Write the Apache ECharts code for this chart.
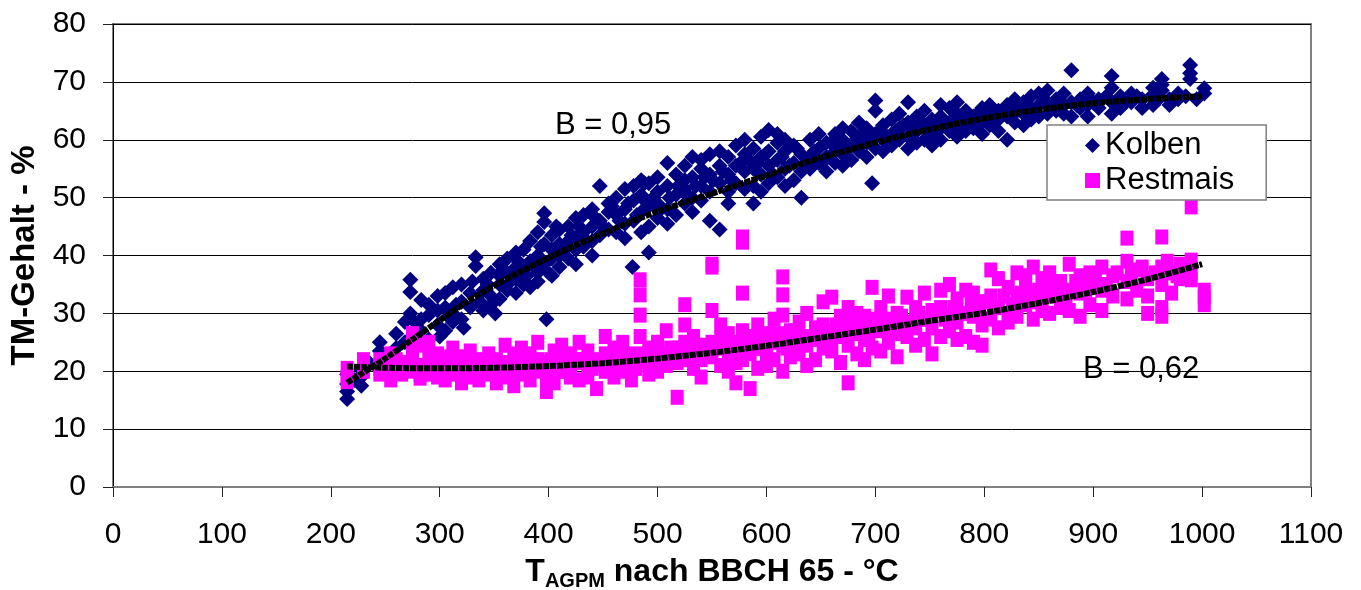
<!DOCTYPE html>
<html>
<head>
<meta charset="utf-8">
<script src="https://cdn.jsdelivr.net/npm/echarts@6/dist/echarts.min.js"></script>
<style>
  html, body { margin: 0; padding: 0; background: #fff; }
  #chart { width: 1361px; height: 590px; }
</style>
</head>
<body>
<div id="chart"></div>
<script>
// Kolben (navy diamonds) - [T_AGPM, TM-Gehalt]
const kolben = [
  [215,15.2],[215,16.5],[215,17.8],[215,19.5],[222,18.5],[228,17.5],[228,20.2],[228,19],[235,21.5],
  [245,25],[245,23.5],[245,21],[252,22.5],[252,20],[260,24],[260,26.5],[268,25],[268,28.5],
  [273,35.8],[273,33.7],[273,30],[277,28.5],[277,26],[283,32.3],[283,29],[283,27],
  [290,29.7],[290,31.5],[290,25.5],[298,28],[298,33],[298,30.5],[305,31],[305,27],[305,33.5],
  [312,30],[312,34.5],[312,28.5],[320,32],[320,29],[320,35],[328,33.5],[328,31],[333,39.7],[333,38.2],
  [340,34],[340,30.5],[340,36],[347,33],[347,37],[347,31.5],[355,35],[355,38.5],[355,32.5],[355,36.5],
  [362,37],[362,34],[362,39.5],[370,36],[370,38],[370,33.5],[370,40.5],[377,41],[377,37.5],[377,35],
  [383,39],[383,42.5],[383,34.5],[398,29],[390,44],[390,40],[390,37],[390,35.5],
  [396,47.3],[396,45.8],[396,42],[396,38.5],[403,41],[403,43.5],[403,36.5],[403,39.5],
  [410,44.5],[410,40],[410,42],[410,38],[418,45],[418,42.5],[418,39.5],[425,46.5],[425,43],[425,41],[425,38.5],
  [432,44],[432,47],[432,41.5],[440,48],[440,45],[440,42.5],[440,40],[447,52],[447,46],[447,43.5],
  [455,49],[455,44.5],[455,47.5],[462,50],[462,47],[462,44],[470,51.5],[470,48],[470,45.5],[470,43],
  [478,49.5],[478,52],[478,46],[477,38],[485,53],[485,50.5],[485,47.5],[485,44],[488,52.5],
  [492,52.5],[492,48.5],[492,45],[492,40.5],[500,51],[500,49],[500,46.5],[500,53.5],
  [509,56],[509,52],[509,48],[509,45.5],[517,54],[517,50.5],[517,47],[525,55.5],[525,51.5],[525,49],[525,53],
  [532,57],[532,53.5],[532,50],[532,47.5],[540,55],[540,52],[540,49.5],[540,56.5],
  [548,54],[548,51],[548,57.5],[548,46],[557,55.5],[557,52.5],[557,44.5],[557,58],
  [565,57],[565,54],[565,51],[565,49],[572,59],[572,55.5],[572,52.5],[580,57.5],[580,54.5],[580,51.5],[580,60],
  [588,58.5],[588,55],[588,52],[588,49],[595,60.5],[595,57],[595,54],[595,51],
  [602,61.7],[602,58],[602,55.5],[602,52.5],[610,59.5],[610,56.5],[610,53.5],[610,61],
  [617,58],[617,55],[617,52],[617,60],[625,59],[625,56],[625,53],[632,57.5],[632,54.5],[632,50],
  [640,60],[640,57],[640,55],[648,58.5],[648,56],[648,61],[655,59.5],[655,57],[655,54.5],
  [663,61],[663,58],[663,56],[670,60],[670,57.5],[670,55.5],[670,62],[678,61.5],[678,59],[678,56.5],
  [685,60.5],[685,58],[685,63],[692,62],[692,59.5],[692,57],[700,66.8],[700,65],[700,61],[700,58.5],[697,52.5],
  [707,60],[707,62.5],[707,58],[715,63.5],[715,61],[715,59],[722,62],[722,60],[722,64.5],
  [730,66.5],[730,63],[730,60.5],[730,58.5],[738,61.5],[738,59.5],[738,64],[745,62.5],[745,60],[745,65],
  [752,63.5],[752,61],[752,59],[760,64],[760,62],[760,60],[760,66],[768,63],[768,61.5],[768,65.5],
  [775,64.5],[775,62.5],[775,60.5],[775,66.5],[783,63.5],[783,61.5],[783,65],[790,64],[790,62],[821,60],
  [798,65.5],[798,63],[798,61],[805,64.5],[805,62.5],[805,66],[813,65],[813,63.5],[813,61.5],
  [821,66],[821,64],[828,65.5],[828,63],[828,67],[836,66.5],[836,64.5],[836,62.5],
  [843,67.5],[843,65],[843,63.5],[850,68],[850,66],[850,64],[858,66.5],[858,64.5],[858,68.5],
  [866,67],[866,65],[873,66],[873,64.5],[873,68],[880,72],[880,66.5],[880,64],[888,67],[888,65.5],
  [895,68],[895,66],[895,64],[905,67],[905,65.5],[917,71],[917,69],[917,66.5],[917,64.5],
  [925,67.5],[925,65.5],[935,66.5],[935,68],[945,67],[945,65.5],[955,67.8],[955,66],[955,69],
  [963,70.5],[963,69.5],[963,68.5],[970,67],[970,66],[978,68],[978,67],
  [989,72.9],[989,71.5],[989,70.5],[1002,68.9],[1002,68],
  [300,26],[308,29.5],[315,31.5],[322,27.5],[330,35.5],[337,32],[344,35],[351,30],[358,37.5],[365,35.5],
  [372,39],[380,36.5],[387,38],[393,41.5],[400,37],[407,45],[414,41],[421,43.5],[428,45],[435,42.5],
  [443,46.5],[450,45],[458,48.5],[465,46],[473,49],[481,47],[488,49.5],[496,50],[503,48],[511,50],
  [519,52],[527,50.5],[535,52],[543,53.5],[551,53],[560,54.5],[568,53],[576,56],[584,56.5],[592,56],
  [599,57.5],[606,54],[614,57],[621,55.5],[628,58.5],[636,56],[644,58],[651,56],[659,59.5],[666,58.5],
  [674,58.5],[682,60],[689,61],[696,60],[704,61.5],[711,60.5],[719,61.5],[726,62.5],[734,62],[741,63],
  [749,61.5],[756,63],[764,62.5],[771,63.5],[779,64],[787,63],[794,64.5],[802,63.5],[810,64.5],[818,65],
  [825,64],[833,65.5],[840,66],[848,65.5],[855,67],[862,66],[870,66.5],[885,66],[900,66.5],[912,67.5],
  [930,66.5],[940,67.5],[960,67],[985,67.5],[995,67]
];

// Restmais (magenta squares)
const restmais = [
  [215,20.5],[215,19],[215,18.2],[230,21.5],[230,20],[230,22],[245,22],[245,19.5],[245,20.5],[245,21],
  [255,23],[255,20],[255,18.5],[265,21.5],[265,19.5],[275,26.5],[275,25],[275,22.5],[275,20],
  [282,24.5],[282,21],[282,18.8],[282,19.5],[290,22.5],[290,20.5],[290,25],[298,23],[298,19],[298,21],
  [305,20],[305,22],[305,18.5],[312,24],[312,21],[312,19.5],[320,22.5],[320,20],[320,18],
  [328,21.5],[328,23.5],[328,19],[336,20.5],[336,22],[336,18.5],[345,23],[345,21],[345,19.5],
  [352,22],[352,20],[352,18],[360,24.5],[360,21.5],[360,19],[368,23],[368,20.5],[368,17.5],
  [375,22],[375,19.5],[375,24],[383,21],[383,18.5],[383,23],[390,25],[390,22],[390,20],
  [398,21.5],[398,19],[398,16.5],[405,23.5],[405,20.5],[405,18],[412,22.5],[412,20],[412,24.5],
  [420,21],[420,19],[420,23],[428,25],[428,22],[428,18.5],[436,23.5],[436,20.5],[436,19],
  [444,22],[444,21],[444,17],[452,26],[452,23],[452,20],[460,24],[460,21.5],[460,19],
  [468,22.5],[468,20],[468,25],[476,23],[476,21],[476,18.5],[484,35.8],[484,33.2],[484,29.7],[484,26],[484,22],
  [492,24],[492,21.5],[492,19.5],[500,25],[500,22.5],[500,20],[508,23],[508,21],[508,27],
  [518,15.5],[518,24],[518,21.5],[525,31.5],[525,28],[525,25],[525,22],[533,26],[533,23.5],[533,20.5],
  [540,24.5],[540,22],[540,19],[550,38.5],[550,38],[550,30.5],[550,25],[550,22.5],
  [558,28],[558,25.5],[558,21],[565,26.5],[565,23],[565,20],[572,24],[572,21.5],[572,18],
  [578,43.2],[578,42.3],[578,33.5],[578,27],[578,22],[585,25.5],[585,23],[585,17],
  [592,28],[592,24],[592,20.5],[600,26.5],[600,23.5],[600,21],[607,29],[607,25],[607,22],
  [615,36.3],[615,33.2],[615,29.7],[615,24.5],[615,20],[622,27],[622,25],[622,22.5],
  [630,28.5],[630,26],[630,23],[637,30],[637,24.5],[637,21],[645,27.5],[645,25.5],[645,22],
  [652,32],[652,28],[652,24],[660,32.8],[660,27],[660,23.5],[668,29.5],[668,26],[668,21.5],
  [675,31],[675,27.5],[675,24.5],[675,18],[683,30],[683,26.5],[683,23],[690,29.5],[690,25.5],[690,22],
  [697,34.5],[697,28],[697,24],[705,31],[705,27],[705,23.5],[712,33],[712,29],[712,25],
  [720,30],[720,26.5],[720,22.5],[729,32.8],[729,28.5],[729,26],[737,31],[737,27.5],[737,24.5],
  [745,33.5],[745,29],[745,25.5],[752,30.5],[752,27.5],[752,23],[760,34],[760,31],[760,26],
  [768,35],[768,29.5],[768,27],[775,32.5],[775,28.5],[775,25.5],[783,34],[783,30],[783,26],
  [790,33.5],[790,29.5],[790,25],[798,32],[798,28],[798,24.5],[806,37.5],[806,33],[806,29],
  [813,36],[813,31],[813,27.5],[822,34.5],[822,30],[822,28.5],[830,37],[830,33],[830,29.5],
  [838,35],[838,31.5],[838,36.5],[845,38],[845,33.5],[845,29],[853,36],[853,32],[853,30.5],
  [860,37],[860,34.5],[860,30],[870,35.5],[870,33],[870,31],[878,38.5],[878,34],[878,30.5],
  [888,36.5],[888,33.5],[888,29.5],[897,37],[897,35],[897,31.5],[908,38],[908,34],[908,30.5],
  [918,36.5],[918,33],[931,43],[931,39],[931,35.5],[931,32.5],[940,37.5],[940,34],
  [950,36],[950,33],[950,30],[963,43.2],[963,38],[963,35],[963,31],[963,29.5],[972,37],[972,33.5],
  [980,38.5],[980,36],[990,48.4],[990,39.2],[990,35.8],[990,37],[1002,32.8],[1002,31.5],[1002,34],
  [250,21],[260,22],[270,21],[288,19.5],[295,21.5],[302,20.5],[310,22.5],[318,20.5],[325,21],[333,19.5],
  [340,21.5],[348,20],[356,21],[364,20],[372,21],[380,20],[388,21.5],[395,20.5],[402,22],[410,21],
  [417,20],[425,21.5],[432,22],[440,20.5],[448,21.5],[456,22.5],[464,21],[472,22.5],[480,20.5],[488,23],
  [496,21],[504,22.5],[512,24],[520,22.5],[529,24],[537,22.5],[545,23.5],[554,24],[562,24.5],[569,22.5],
  [576,25],[583,24],[590,26],[597,24],[604,25.5],[612,26.5],[619,24],[626,27],[634,25.5],[641,26],
  [649,27],[656,25.5],[664,28],[672,26],[679,28.5],[687,27.5],[694,26.5],[701,29],[709,27.5],[716,28.5],
  [724,29.5],[732,28],[740,30],[748,29],[756,30.5],[764,29],[772,31],[780,30],[788,31.5],[795,30.5],
  [803,32],[810,31],[818,33],[826,31.5],[834,33.5],[842,32],[850,34],[858,33],[866,35],[875,33],
  [884,35.5],[893,34],[902,36],[912,35],[922,37],[935,36.5],[945,38],[957,37],[968,39],[977,36.5],[985,38]
];

// trend curves
const kolbenTrend = [
  [215,18],[225,19.2],[250,22.2],[275,25.5],[300,28.8],[325,32],[350,34.8],[375,37.3],[400,39.6],
  [425,41.8],[450,43.8],[475,45.8],[500,47.6],[525,49.2],[550,50.7],[575,52.3],[600,53.8],[625,55.4],
  [650,56.9],[675,58.2],[700,59.5],[725,60.7],[750,61.8],[775,62.8],[800,63.7],[825,64.5],[850,65.2],
  [875,65.8],[900,66.3],[925,66.7],[950,67],[975,67.3],[1000,67.5]
];
const restmaisTrend = [
  [215,20.8],[250,20.6],[300,20.5],[350,20.6],[400,20.9],[450,21.4],[500,22.2],[550,23.2],[600,24.4],
  [650,25.8],[700,27.2],[750,28.7],[800,30.1],[850,31.8],[900,33.7],[950,35.9],[1000,38.5]
];

const fontFamily = '"Liberation Sans", Arial, sans-serif';
const diamond = 'path://M0,-1L1,0L0,1L-1,0Z';

const chart = echarts.init(document.getElementById('chart'));
chart.setOption({
  animation: false,
  textStyle: { fontFamily: fontFamily },
  grid: {
    left: 113, right: 50, top: 24, bottom: 103,
    outerBoundsMode: 'none',
    show: true, borderColor: '#808080', borderWidth: 2
  },
  legend: {
    orient: 'vertical',
    left: 1047, top: 125,
    padding: [5, 32, 4, 38],
    itemWidth: 15, itemHeight: 15, itemGap: 4,
    backgroundColor: '#fff',
    borderColor: '#808080', borderWidth: 1.5,
    textStyle: { fontSize: 31, color: '#000', fontFamily: fontFamily },
    data: [
      { name: 'Kolben', icon: diamond },
      { name: 'Restmais', icon: 'rect' }
    ]
  },
  xAxis: {
    type: 'value', min: 0, max: 1100, interval: 100,
    name: '{a|T}{b|AGPM}{a| nach BBCH 65 - °C}',
    nameLocation: 'middle', nameGap: 66,
    nameTextStyle: {
      rich: {
        a: { fontSize: 32, fontWeight: 'bold', color: '#000', lineHeight: 38, fontFamily: fontFamily },
        b: { fontSize: 20, fontWeight: 'bold', color: '#000', lineHeight: 20, verticalAlign: 'bottom', fontFamily: fontFamily }
      }
    },
    axisLine: { lineStyle: { color: '#808080', width: 2 } },
    axisTick: { inside: false, length: 10, lineStyle: { color: '#222', width: 1 } },
    axisLabel: { fontSize: 30, color: '#000', margin: 33, formatter: v => String(v) },
    splitLine: { show: false }
  },
  yAxis: {
    type: 'value', min: 0, max: 80, interval: 10,
    name: 'TM-Gehalt - %',
    nameLocation: 'middle', nameGap: 70,
    nameTextStyle: { fontSize: 33, fontWeight: 'bold', color: '#000' },
    axisLine: { show: true, lineStyle: { color: '#000', width: 1 } },
    axisTick: { show: true, length: 10, lineStyle: { color: '#222', width: 1 } },
    axisLabel: { fontSize: 30, color: '#000', margin: 27 },
    splitLine: { lineStyle: { color: '#000', width: 1 } }
  },
  series: [
    {
      name: 'Kolben', type: 'scatter', data: kolben,
      symbol: diamond, symbolSize: 16,
      itemStyle: { color: '#000080', opacity: 1 }, z: 2
    },
    {
      name: 'Restmais', type: 'scatter', data: restmais,
      symbol: 'rect', symbolSize: [13, 15],
      itemStyle: { color: '#ff00ff', opacity: 1 }, z: 2
    },
    {
      name: 'Kolben Trend', type: 'line', data: kolbenTrend, smooth: 0.3,
      symbol: 'none', z: 3,
      lineStyle: { color: '#000', width: 6, type: [6, 1] }
    },
    {
      name: 'Restmais Trend', type: 'line', data: restmaisTrend, smooth: 0.3,
      symbol: 'none', z: 3,
      lineStyle: { color: '#000', width: 6, type: [6, 1] }
    }
  ],
  graphic: [
    { type: 'text', left: 555, top: 110, style: { text: 'B = 0,95', fontSize: 31, fill: '#000', fontFamily: fontFamily } },
    { type: 'text', left: 1083, top: 354, style: { text: 'B = 0,62', fontSize: 31, fill: '#000', fontFamily: fontFamily } }
  ]
});
</script>
</body>
</html>
